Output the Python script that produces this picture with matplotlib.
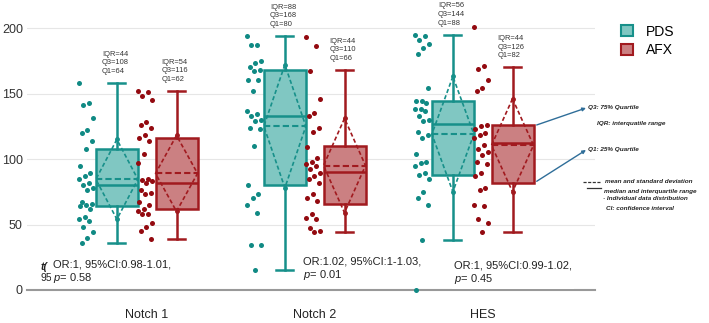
import matplotlib
matplotlib.use("Agg")
import matplotlib.pyplot as plt
from matplotlib.patches import Patch
from matplotlib.lines import Line2D

plt.rcParams['font.family'] = ['Liberation Sans', 'DejaVu Sans']
plt.rcParams['mathtext.fontset'] = 'custom'
plt.rcParams['mathtext.it'] = 'Liberation Sans:italic'
plt.rcParams['mathtext.rm'] = 'Liberation Sans'

# ---------------- data ----------------
categories = ["Notch 1", "Notch 2", "HES"]
groups = ["PDS", "AFX"]

pds_q1 = [64, 80, 88]
pds_q3 = [108, 168, 144]
pds_median = [80, 133, 127]
pds_mean = [84.5, 125, 119]
pds_sd = [30.5, 47, 44]
pds_whislo = [36, 15, 38]
pds_whishi = [158, 194, 195]

afx_q1 = [62, 66, 82]
afx_q3 = [116, 110, 126]
afx_median = [82, 90, 112]
afx_mean = [89, 95, 110.5]
afx_sd = [29, 36, 35.5]
afx_whislo = [39, 44, 44]
afx_whishi = [152, 168, 170]

pds_points = [
    [158, 143, 141, 131, 122, 120, 114, 108, 95, 89, 87, 85, 82, 80, 78, 76,
     67, 66, 65, 64, 62, 56, 54, 53, 48, 44, 40, 36],
    [194, 187, 187, 175, 173, 170, 168, 167, 160, 160, 152, 137, 134, 133, 130,
     129, 124, 123, 110, 80, 73, 70, 65, 59, 34, 34, 15],
    [195, 194, 191, 188, 185, 180, 154, 144, 144, 143, 138, 138, 137, 133, 130,
     129, 121, 118, 116, 104, 98, 97, 95, 89, 88, 85, 75, 70, 65, 38, 0],
]
afx_points = [
    [152, 151, 148, 145, 128, 126, 124, 118, 116, 114, 104, 97, 85, 84, 83, 82,
     76, 74, 73, 67, 65, 62, 60, 58, 58, 51, 48, 45, 39],
    [193, 186, 167, 146, 135, 133, 124, 121, 109, 101, 98, 96, 95, 92, 89, 87,
     85, 82, 73, 70, 68, 58, 55, 54, 47, 45, 44],
    [201, 171, 169, 160, 154, 152, 126, 125, 123, 120, 118, 116, 111, 108, 105,
     103, 98, 96, 89, 87, 78, 76, 65, 64, 54, 51, 44],
]

or_texts = ["OR:1, 95%CI:0.98-1.01,", "OR:1.02, 95%CI:1-1.03,", "OR:1, 95%CI:0.99-1.02,"]
p_values = ["0.58", "0.01", "0.45"]

# ---------------- style ----------------
teal_edge = "#17908a"
teal_fill = "#80c7c2"
teal_pt = "#108a84"
red_edge = "#a11a1f"
red_fill = "#cb8082"
red_pt = "#930a10"

W, H = 709, 323
fig = plt.figure(figsize=(W / 100, H / 100), dpi=100)
ax = fig.add_axes([27 / W, 33 / H, (595 - 27) / W, 290 / H])
ax.set_xlim(-0.714, 2.667)
ax.set_ylim(0, 221.4)

box_w = 0.25
offsets = {"PDS": -0.179, "AFX": 0.176}
pt_offsets = {"PDS": -0.363, "AFX": -0.012}

series = {
    "PDS": dict(q1=pds_q1, q3=pds_q3, med=pds_median, mean=pds_mean, sd=pds_sd,
                lo=pds_whislo, hi=pds_whishi, pts=pds_points,
                edge=teal_edge, fill=teal_fill, ptc=teal_pt),
    "AFX": dict(q1=afx_q1, q3=afx_q3, med=afx_median, mean=afx_mean, sd=afx_sd,
                lo=afx_whislo, hi=afx_whishi, pts=afx_points,
                edge=red_edge, fill=red_fill, ptc=red_pt),
}

for g in groups:
    s = series[g]
    for i in range(len(categories)):
        pos = i + offsets[g]
        stats = [dict(med=s["med"][i], q1=s["q1"][i], q3=s["q3"][i],
                      whislo=s["lo"][i], whishi=s["hi"][i], mean=s["mean"][i])]
        ax.bxp(stats, positions=[pos], widths=box_w, capwidths=0.1,
               showfliers=False, showmeans=False, patch_artist=True,
               boxprops=dict(facecolor=s["fill"], edgecolor=s["edge"], linewidth=1.8),
               medianprops=dict(color=s["edge"], linewidth=1.8),
               whiskerprops=dict(color=s["edge"], linewidth=1.8),
               capprops=dict(color=s["edge"], linewidth=1.8),
               manage_ticks=False, zorder=3)
        m, sd = s["mean"][i], s["sd"][i]
        # mean line
        ax.plot([pos - box_w / 2, pos + box_w / 2], [m, m], ls=(0, (3, 1.5)),
                color=s["edge"], lw=1.5, zorder=4)
        # mean +/- SD diamond
        ax.plot([pos, pos - box_w / 2, pos, pos + box_w / 2, pos],
                [m + sd, m, m - sd, m, m + sd], ls=(0, (2.5, 1.5)),
                color=s["edge"], lw=1.2, zorder=4)
        ax.plot([pos, pos], [m + sd, m - sd], ls="none", marker="o", ms=2.5,
                color=s["edge"], zorder=4)
        # individual points (deterministic jitter)
        vals = s["pts"][i]
        xs = [i + pt_offsets[g] + (((k * 7) % 11) / 10 - 0.5) * 0.085
              for k in range(len(vals))]
        ax.scatter(xs, vals, s=13, color=s["ptc"], zorder=5, clip_on=False,
                   linewidths=0)
        # IQR annotation
        ax.text(pos - box_w / 2 + 0.035, s["hi"][i] + 6,
                f"IQR={s['q3'][i] - s['q1'][i]}\nQ3={s['q3'][i]}\nQ1={s['q1'][i]}",
                fontsize=5.4, color="#333333", va="bottom", ha="left",
                linespacing=1.35, zorder=6)

# OR text
or_x = [-0.56, -0.07, -0.17]
or_y = [13.4, 16.0, 12.6]
# partially hidden text behind first OR label
ax.text(-0.632, 17.6, "t(", fontsize=7.5, fontweight="bold", style="italic",
        color="#222222", va="center", ha="left", zorder=6)
ax.text(-0.632, 9.2, "95", fontsize=7.5, color="#222222", va="center",
        ha="left", zorder=6)
for i in range(len(categories)):
    ax.text(i + or_x[i], or_y[i], or_texts[i] + "\n$\\mathit{p}$= " + p_values[i],
            fontsize=8, color="#222222", va="center", ha="left", linespacing=1.2,
            zorder=7, bbox=dict(facecolor="white", edgecolor="none", pad=1.5))

# axes style
ax.set_yticks([0, 50, 100, 150, 200])
ax.set_xticks(range(len(categories)))
ax.set_xticklabels(categories)
ax.tick_params(axis="y", length=0, pad=3, labelsize=9, labelcolor="#333333")
ax.tick_params(axis="x", length=0, pad=14, labelsize=9, labelcolor="#222222")
ax.grid(axis="y", color="#e6e6e6", lw=0.8)
ax.set_axisbelow(True)
for sp in ["top", "right", "left"]:
    ax.spines[sp].set_visible(False)
ax.spines["bottom"].set_color("#999999")
ax.spines["bottom"].set_linewidth(1.5)

# legend
handles = [Patch(facecolor=teal_fill, edgecolor=teal_edge, lw=1.5, label="PDS"),
           Patch(facecolor=red_fill, edgecolor=red_edge, lw=1.5, label="AFX")]
fig.legend(handles=handles, loc="upper left", bbox_to_anchor=(608 / W, 1 - 12 / H),
           frameon=False, fontsize=10, handlelength=0.9, handleheight=0.9,
           labelspacing=0.35, handletextpad=0.9)

# explanatory annotations
def fx(px):
    return px / W

def fy(py):
    return 1 - py / H

arrow_col = "#2f6e99"
ax.annotate("", xy=(fx(586), fy(108)), xycoords="figure fraction",
            xytext=(2.32, 126), textcoords="data",
            arrowprops=dict(arrowstyle="-|>", color=arrow_col, lw=1.0,
                            mutation_scale=5, shrinkA=0, shrinkB=0),
            annotation_clip=False)
ax.annotate("", xy=(fx(586), fy(150)), xycoords="figure fraction",
            xytext=(2.32, 83), textcoords="data",
            arrowprops=dict(arrowstyle="-|>", color=arrow_col, lw=1.0,
                            mutation_scale=5, shrinkA=0, shrinkB=0),
            annotation_clip=False)

note_kw = dict(fontsize=4.6, fontweight="bold", style="italic", color="#222222",
               va="center", ha="left")
fig.text(fx(588), fy(107), "Q3: 75% Quartile", **note_kw)
fig.text(fx(597), fy(123), "IQR: interquatile range", **note_kw)
fig.text(fx(588), fy(149), "Q1: 25% Quartile", **note_kw)
fig.add_artist(Line2D([fx(583), fx(601)], [fy(182), fy(182)], ls=(0, (2.5, 1.2)),
                      color="#333333", lw=0.9))
fig.add_artist(Line2D([fx(587), fx(601)], [fy(188), fy(188)], color="#333333", lw=0.9))
fig.text(fx(605), fy(182), "mean and standard deviation", **note_kw)
fig.text(fx(604), fy(191), "median and interquartile range", **note_kw)
fig.text(fx(603), fy(199), "\u00b7 Individual data distribution", **note_kw)
fig.text(fx(606), fy(208), "CI: confidence interval", **note_kw)

fig.savefig("out.png", dpi=100)
